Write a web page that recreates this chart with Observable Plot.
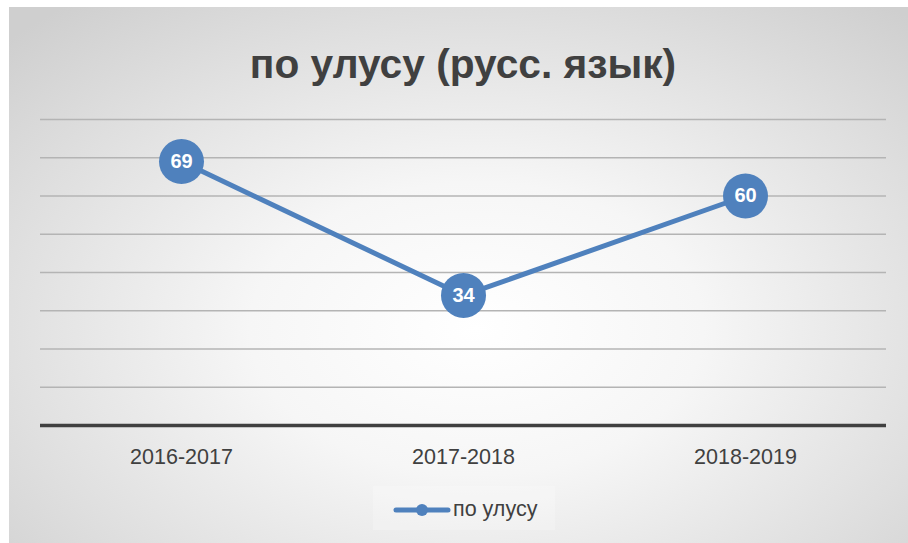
<!DOCTYPE html>
<html>
<head>
<meta charset="utf-8">
<script src="https://cdn.jsdelivr.net/npm/d3@7"></script>
<script src="https://cdn.jsdelivr.net/npm/@observablehq/plot@0.6"></script>
<style>
  html, body { margin: 0; padding: 0; background: #ffffff; }
  #wrap { position: relative; width: 908px; height: 543px; overflow: hidden; background: #ffffff; font-family: "Liberation Sans", Arial, sans-serif; }
  #frame { position: absolute; left: 9px; top: 7px; width: 899px; height: 536px;
    background: radial-gradient(ellipse 72% 78% at 52% 60%, #ffffff 0%, #f6f6f6 35%, #e0e0e0 72%, #cfcfcf 100%); }
  #title { position: absolute; left: 0; top: 44px; width: 908px; text-align: center; font-size: 40.7px; line-height: 40px; font-weight: bold; color: #404040; padding-left: 18px; box-sizing: border-box; }
  #chart { position: absolute; left: 0; top: 100px; }
  #legend { position: absolute; left: 373px; top: 486px; width: 182px; height: 44px; background: rgba(255,255,255,0.22); }
  #legend svg { position: absolute; left: 20px; top: 16px; }
  #legend span { position: absolute; left: 80px; top: 11px; font-size: 21.5px; line-height: 24px; color: #404040; }
</style>
</head>
<body>
<div id="wrap">
  <div id="frame"></div>
  <div id="title">по улусу (русс. язык)</div>
  <div id="chart"></div>
  <div id="legend">
    <svg width="58" height="16"><line x1="3" y1="8" x2="55" y2="8" stroke="#4F81BD" stroke-width="5" stroke-linecap="round"/><circle cx="29" cy="8" r="6" fill="#4F81BD"/></svg>
    <span id="legendText"></span>
  </div>
</div>
<script>
const seriesName = "по улусу";
const years = ["2016-2017", "2017-2018", "2018-2019"];
const values = [69, 34, 60];
const gridTicks = [10, 20, 30, 40, 50, 60, 70, 80];

document.getElementById("legendText").textContent = seriesName;

const data = years.map((y, i) => ({year: y, value: values[i]}));
const blue = "#4F81BD";

const chart = Plot.plot({
  width: 908,
  height: 380,
  marginLeft: 40,
  marginRight: 22,
  marginTop: 19,
  marginBottom: 55,
  style: {background: "transparent", fontFamily: "Liberation Sans, Arial, sans-serif", fontSize: "21.5px", color: "#404040", overflow: "visible"},
  x: {type: "point", domain: years, padding: 0.5},
  y: {domain: [0, 80], axis: null},
  marks: [
    Plot.ruleY(gridTicks, {stroke: "#b4b4b4", strokeWidth: 1.3}),
    Plot.ruleY([0], {stroke: "#404040", strokeWidth: 3.5}),
    Plot.axisX({tickSize: 0, tickPadding: 23, fill: "#404040", fontSize: 21.5, label: null}),
    Plot.line(data, {x: "year", y: "value", stroke: blue, strokeWidth: 5, strokeLinejoin: "round"}),
    Plot.dot(data, {x: "year", y: "value", r: 22.5, fill: blue, stroke: null}),
    Plot.text(data, {x: "year", y: "value", text: d => String(d.value), fill: "white", fontWeight: "bold", fontSize: 20, dy: 0})
  ]
});
document.getElementById("chart").appendChild(chart);
</script>
</body>
</html>
